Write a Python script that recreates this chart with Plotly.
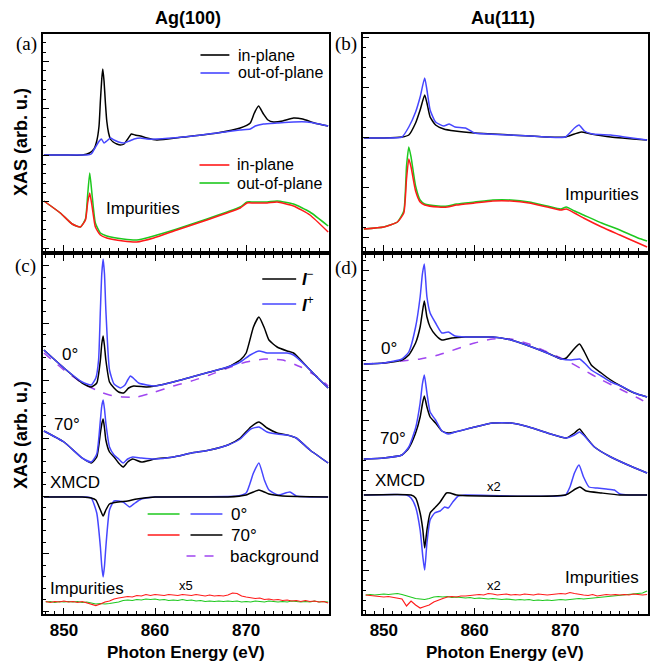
import plotly.graph_objects as go

# ---------------- data (photon energy in eV, intensity in arbitrary units) ----------------
# (a) Ag(100): Ni XAS in-plane / out-of-plane, and impurities
a_E_black = [847.8, 850.0, 852.0, 852.8, 853.3, 853.6, 853.85, 854.0, 854.15, 854.26, 854.4, 854.55, 854.7,
             854.9, 855.1, 855.4, 855.8, 856.2, 856.6, 857.0, 857.4, 857.8, 858.4, 859.1, 860.2, 863.1, 866.8,
             869.35, 870.45, 870.9, 871.36, 871.9, 872.4, 873.0, 874.0, 875.2, 876.2, 877.5, 879.0]
a_black = [96, 96, 96, 98, 102, 110, 125, 150, 172, 182, 170, 148, 130, 118, 112, 109, 107, 106, 107, 112,
           117, 116, 115, 113, 111, 114, 118, 123, 128, 138, 145, 137, 131, 129, 130, 133, 132, 128, 125]
a_E_blue = [847.8, 850.0, 852.5, 853.0, 853.4, 853.8, 854.1, 854.4, 854.7, 855.1, 855.5, 856.0, 856.6, 857.2,
            857.7, 858.4, 859.1, 860.2, 863.1, 866.8, 869.3, 870.45, 871.0, 871.9, 873.4, 875.2, 876.7, 878.0, 879.0]
a_blue = [96, 96, 96, 97, 103, 109, 112, 108, 110, 113, 111, 109, 108, 110, 112, 113, 112, 112, 114, 118,
          121, 122, 125, 127, 128, 129, 129, 127, 125]
a_E_imp = [847.8, 849.6, 850.9, 851.8, 852.36, 852.6, 852.83, 853.1, 853.45, 854.0, 854.7, 856.5, 858.0,
           859.85, 862.4, 865.7, 867.9, 869.35, 870.1, 870.8, 872.3, 873.4, 875.2, 877.0, 879.0]
a_red = [50, 38, 27, 24, 31, 48, 58, 44, 24, 16, 13, 10, 9, 13, 21, 31, 38, 43, 48, 48, 48, 49, 45, 36, 19]
a_green = [50, 38, 27, 24, 32, 56, 78, 55, 28, 18, 15, 12, 11, 15, 22, 32, 39, 44, 49, 49, 49, 50, 47, 39, 25]

# (b) Au(111)
b_E_black = [847.8, 850.0, 852.0, 852.75, 853.5, 854.0, 854.5, 854.75, 855.1, 855.7, 856.6, 857.85, 860.0,
             864.0, 868.0, 870.0, 871.0, 871.75, 872.85, 875.0, 879.0]
b_black = [113, 113, 114, 116, 128, 141, 156, 148, 134, 126, 122, 120, 118, 116, 114, 114, 117, 119, 117, 114, 111]
b_E_blue = [847.8, 850.0, 852.0, 852.75, 853.5, 854.0, 854.5, 854.75, 855.1, 855.7, 856.6, 857.2, 857.85,
            859.0, 860.0, 864.0, 868.0, 870.0, 871.0, 871.5, 872.1, 873.0, 875.0, 876.5, 879.0]
b_blue = [113, 113, 114, 124, 139, 154, 173, 161, 141, 129, 125, 127, 124, 123, 118, 116, 114, 114, 123, 126,
          120, 117, 116, 114, 111]
b_E_imp = [847.8, 850.0, 851.5, 852.2, 852.5, 852.75, 853.0, 853.5, 854.0, 854.5, 856.0, 857.0, 858.0, 860.0,
           862.0, 864.0, 866.0, 868.0, 869.5, 870.1, 871.0, 872.0, 874.0, 876.0, 878.0, 879.0]
b_red = [22, 24, 29, 38, 72, 92, 84, 60, 49, 46, 44, 44, 46, 48, 50, 50, 48, 44, 41, 42, 38, 33, 24, 16, 8, 4]
b_green = [22, 24, 29, 40, 85, 104, 94, 65, 51, 47, 45, 45, 47, 49, 51, 51, 49, 45, 42, 44, 40, 36, 28, 21, 13, 10]

# (c) Ag(100): XAS with I- / I+ at 0 and 70 deg, background, XMCD, impurities (x5)
c0_E_black = [847.8, 850.0, 852.0, 853.0, 853.6, 854.0, 854.15, 854.3, 854.45, 854.6, 855.0, 855.5, 856.0,
              856.55, 857.1, 857.65, 859.1, 860.0, 862.0, 864.0, 866.0, 868.0, 869.35, 870.0, 870.8, 871.4,
              872.0, 872.5, 873.4, 874.5, 875.2, 876.7, 877.75, 879.0]
c0_black = [264, 246, 231, 227, 231, 254, 270, 278, 268, 254, 232, 226, 222, 221, 226, 228, 227, 228, 232, 237,
            242, 247, 254, 261, 287, 297, 286, 274, 267, 263, 261, 247, 237, 226]
c0_E_blue = [847.8, 850.0, 852.0, 853.0, 853.5, 853.8, 854.0, 854.15, 854.3, 854.45, 854.6, 855.0, 855.5,
             856.2, 856.7, 857.0, 857.3, 857.6, 858.2, 859.1, 860.0, 862.0, 864.0, 866.0, 868.0, 869.35, 870.45,
             871.4, 872.3, 874.5, 875.2, 876.7, 877.75, 879.0]
c0_blue = [264, 246, 232, 229, 236, 254, 304, 340, 355, 340, 304, 244, 230, 226, 229, 234, 238, 236, 231, 229,
           228, 232, 237, 242, 247, 252, 259, 263, 261, 261, 259, 247, 237, 226]
c_bg_E = [847.8, 850.0, 852.0, 854.0, 855.0, 856.5, 858.0, 860.0, 862.0, 864.0, 866.0, 868.0, 870.0, 872.0,
          874.0, 876.0, 878.0, 879.0]
c_bg = [261, 244, 231, 222, 219, 217, 217, 222, 228, 233, 239, 246, 252, 255, 254, 247, 236, 228]
c70_E = [847.8, 850.0, 852.0, 853.0, 853.6, 854.0, 854.15, 854.3, 854.45, 854.6, 855.0, 855.5, 856.0, 856.5,
         857.0, 857.55, 858.5, 860.0, 862.0, 864.0, 866.0, 868.0, 869.35, 870.5, 871.4, 872.3, 873.4, 874.5,
         875.5, 877.0, 879.0]
c70_black = [183, 172, 156, 151, 157, 181, 190, 195, 186, 174, 162, 157, 151, 147, 152, 155, 152, 155, 157, 161,
             164, 169, 176, 187, 192, 186, 181, 179, 176, 164, 151]
c70_blue = [183, 172, 156, 152, 160, 194, 208, 214, 205, 191, 167, 159, 155, 151, 155, 157, 156, 155, 157, 161,
            164, 169, 175, 185, 187, 182, 180, 179, 176, 164, 151]
c_xm_E_black = [847.8, 852.0, 853.0, 853.5, 854.0, 854.3, 854.6, 855.0, 856.0, 857.0, 858.0, 860.0, 868.0,
                870.0, 870.8, 871.4, 872.0, 872.5, 874.0, 879.0]
c_xm_black = [117, 117, 116, 114, 104, 98, 104, 110, 112, 113, 115, 117, 117, 119, 122, 124, 122, 120, 118, 117]
c_xm_E_blue = [847.8, 852.5, 853.0, 853.6, 854.0, 854.15, 854.3, 854.45, 854.6, 855.0, 855.5, 856.0, 856.5,
               857.2, 857.8, 858.5, 860.0, 869.0, 870.0, 870.8, 871.4, 872.0, 872.5, 873.5, 874.8, 875.5, 879.0]
c_xm_blue = [117, 117, 116, 101, 67, 48, 37, 48, 67, 104, 113, 113, 112, 107, 111, 115, 117, 118, 121, 141,
             151, 134, 124, 119, 122, 118, 117]

imp_E = [848.0, 848.5, 849.0, 849.5, 850.0, 850.5, 851.0, 851.5, 852.0, 852.5, 853.0, 853.5, 854.0, 854.5,
         855.0, 855.5, 856.0, 856.5, 857.0, 857.5, 858.0, 858.5, 859.0, 859.5, 860.0, 860.5, 861.0, 861.5,
         862.0, 862.5, 863.0, 863.5, 864.0, 864.5, 865.0, 865.5, 866.0, 866.5, 867.0, 867.5, 868.0, 868.5,
         869.0, 869.5, 870.0, 870.5, 871.0, 871.5, 872.0, 872.5, 873.0, 873.5, 874.0, 874.5, 875.0, 875.5,
         876.0, 876.5, 877.0, 877.5, 878.0, 878.5, 879.0]
c_imp_red = [12.5, 11.5, 12.5, 12, 13, 12, 12.5, 11.5, 12.5, 11, 10, 8.5, 10, 12, 13, 15, 16, 16.5, 17.5, 17,
             18.5, 18, 19.5, 18.5, 19.5, 19, 18.5, 19.5, 19, 18.5, 19.5, 19, 18.5, 19.5, 18.5, 18, 19, 18,
             18.5, 18, 19, 21, 20.5, 18, 17, 16.5, 15.5, 16, 14.5, 15, 14, 14.5, 13.5, 14, 13, 13.5, 12.5,
             13.5, 12.5, 13, 12, 12.5, 11]
c_imp_green = [12, 12.5, 11.5, 12.5, 12, 12.5, 12, 12.5, 11.5, 12, 11, 10, 10.5, 10, 10.5, 11, 12, 13.5, 14,
               13.5, 14.5, 14, 15, 14.5, 15, 14, 14.5, 13.5, 14, 13.5, 14.5, 13.5, 14, 13, 13.5, 12.5, 13,
               12.5, 13, 12.5, 13, 12.5, 13, 12, 12.5, 12, 13, 12.5, 12, 13, 12.5, 12, 12.5, 12, 13, 12.5,
               12, 12.5, 12, 13, 12, 12.5, 12]

# (d) Au(111)
d0_E_black = [847.8, 850.0, 852.0, 852.75, 853.5, 854.0, 854.25, 854.46, 854.75, 855.1, 855.7, 856.4, 857.5,
              859.0, 860.0, 862.0, 864.0, 866.0, 868.0, 869.55, 870.1, 870.85, 871.56, 872.1, 872.85, 873.95,
              875.0, 876.1, 877.6, 879.0]
d0_black = [250, 251, 254, 259, 271, 287, 302, 313, 297, 287, 279, 274, 276, 277, 277, 277, 274, 268, 261, 255,
            256, 264, 270, 262, 249, 241, 234, 228, 221, 217]
d0_E_blue = [847.8, 850.0, 852.0, 852.75, 853.5, 854.0, 854.25, 854.46, 854.75, 855.1, 855.7, 856.4, 857.1,
             857.85, 859.0, 860.0, 862.0, 864.0, 866.0, 868.0, 869.55, 870.65, 871.56, 872.1, 872.85, 873.95,
             875.0, 876.1, 877.6, 879.0]
d0_blue = [250, 251, 255, 262, 287, 317, 340, 350, 317, 301, 291, 281, 282, 278, 277, 277, 277, 274, 268, 261,
           255, 254, 255, 251, 244, 238, 232, 228, 221, 217]
d_bg_E = [847.8, 850.0, 852.0, 854.0, 856.0, 858.0, 860.0, 862.0, 864.0, 866.0, 868.0, 870.0, 872.0, 874.0,
          876.0, 878.0, 879.0]
d_bg = [250, 251, 253, 255, 259, 265, 271, 275, 275, 270, 262, 254, 244, 234, 225, 216, 211]
d70_E = [847.8, 850.0, 852.0, 852.75, 853.5, 854.0, 854.25, 854.46, 854.75, 855.1, 855.7, 856.4, 857.1,
         857.85, 860.0, 862.0, 864.0, 866.0, 868.0, 870.1, 871.0, 871.56, 872.1, 873.2, 875.0, 876.9, 879.0]
d70_black = [155, 156, 159, 166, 181, 197, 210, 218, 207, 197, 191, 183, 181, 182, 187, 191, 191, 187, 181, 176,
             181, 185, 179, 167, 157, 149, 141]
d70_blue = [155, 156, 159, 167, 186, 211, 230, 239, 221, 202, 194, 183, 180, 182, 187, 191, 191, 187, 181, 176,
            179, 182, 178, 167, 157, 149, 141]
d_xm_E_black = [847.8, 853.0, 853.5, 854.0, 854.3, 854.5, 854.75, 855.1, 855.6, 856.2, 856.9, 857.3, 858.0,
                870.0, 871.1, 871.6, 872.3, 874.0, 876.0, 879.0]
d_xm_black = [119, 119, 116, 101, 84, 66, 84, 101, 106, 112, 121, 121, 119, 119, 125, 127, 123, 121, 119, 119]
d_xm_E_blue = [847.8, 852.5, 853.0, 853.5, 854.0, 854.3, 854.5, 854.75, 855.1, 855.6, 856.2, 856.7, 857.1,
               857.6, 858.2, 859.0, 870.0, 870.5, 871.0, 871.5, 872.0, 872.6, 873.5, 874.5, 875.4, 876.0,
               877.0, 879.0]
d_xm_blue = [119, 119, 116, 107, 84, 57, 44, 71, 94, 101, 103, 107, 106, 112, 118, 119, 119, 127, 141, 149,
             137, 127, 126, 125, 124, 120, 119, 119]
d_imp_red = [19, 18.5, 18, 17.5, 17, 17.5, 16.5, 16, 15, 8, 13, 9, 6, 7.5, 9, 12, 14, 15.5, 17, 17.5, 17, 18,
             18, 18.5, 19, 19.5, 19, 20.5, 20, 19, 19.5, 20, 19, 19.5, 19, 20, 19.5, 19, 20, 19.5, 19, 19.5,
             20, 20.5, 20, 21.5, 20.5, 19.5, 19, 18.5, 19.5, 18, 19, 19.5, 19, 19.5, 19, 19.5, 19, 20, 19.5,
             19, 19.5]
d_imp_green = [19, 19.5, 19, 19.5, 20, 19.5, 20, 20.5, 19.5, 18, 16.5, 15.5, 15, 14.5, 15.5, 17, 17.5, 17, 17.5,
               16.5, 17, 16.5, 16, 16.5, 15.5, 16, 15.5, 15, 15.5, 15, 14.5, 15, 14.5, 14, 14.5, 14, 14.5,
               13.5, 14, 13.5, 14, 13.5, 14, 14.5, 14, 14.5, 15, 15.5, 15, 15.5, 16, 16.5, 17, 17.5, 18, 18.5,
               19, 19.5, 20, 20, 20.5, 21, 23]

# ---------------- styling ----------------
BLACK = "#000000"
BLUE = "#4646ff"
RED = "#ff1a1a"
GREEN = "#1ec81e"
PURPLE = "#a046f0"
FONT = "Liberation Sans, Arial, sans-serif"
SERIF = "Liberation Serif, Times New Roman, serif"

W, H = 654, 665
ML, MR, MT, MB = 43, 4, 34, 51
PW, PH = W - ML - MR, H - MT - MB


def fx(p):  # pixel -> paper x
    return (p - ML) / PW


def fy(p):  # pixel -> paper y
    return (H - MB - p) / PH


fig = go.Figure()


def add(E, y, color, ax, width=1.5, dash=None, smooth=True):
    line = dict(color=color, width=width, dash=dash)
    if smooth:
        line.update(shape="spline", smoothing=0.5)
    fig.add_trace(go.Scatter(
        x=E, y=y, mode="lines", line=line,
        xaxis="x" + ax, yaxis="y" + ax, showlegend=False, hoverinfo="skip"))


# (a)
add(a_E_black, a_black, BLACK, "")
add(a_E_blue, a_blue, BLUE, "")
add(a_E_imp, a_green, GREEN, "")
add(a_E_imp, a_red, RED, "")
# (b)
add(b_E_black, b_black, BLACK, "2")
add(b_E_blue, b_blue, BLUE, "2")
add(b_E_imp, b_green, GREEN, "2")
add(b_E_imp, b_red, RED, "2")
# (c)
add(c_bg_E, c_bg, PURPLE, "3", dash="dash")
add(c0_E_black, c0_black, BLACK, "3")
add(c0_E_blue, c0_blue, BLUE, "3")
add(c70_E, c70_black, BLACK, "3")
add(c70_E, c70_blue, BLUE, "3")
add(c_xm_E_blue, c_xm_blue, BLUE, "3")
add(c_xm_E_black, c_xm_black, BLACK, "3")
add(imp_E, c_imp_green, GREEN, "3", width=1.2, smooth=False)
add(imp_E, c_imp_red, RED, "3", width=1.2, smooth=False)
# (d)
add(d_bg_E, d_bg, PURPLE, "4", dash="dash")
add(d0_E_black, d0_black, BLACK, "4")
add(d0_E_blue, d0_blue, BLUE, "4")
add(d70_E, d70_black, BLACK, "4")
add(d70_E, d70_blue, BLUE, "4")
add(d_xm_E_blue, d_xm_blue, BLUE, "4")
add(d_xm_E_black, d_xm_black, BLACK, "4")
add(imp_E, d_imp_green, GREEN, "4", width=1.2, smooth=False)
add(imp_E, d_imp_red, RED, "4", width=1.2, smooth=False)

xl = [0, fx(330)]
xr = [fx(364), 1]
yt = [fy(251), 1]
yb = [0, fy(255)]


def xax(dom, anchor, labels):
    return dict(
        domain=dom, anchor=anchor, range=[847.7, 879.1],
        showline=True, linecolor="black", linewidth=1.8,
        mirror="allticks" if labels else True,
        ticks="inside", tick0=850, dtick=10, ticklen=6, tickwidth=1.2, tickcolor="black",
        minor=dict(ticks="inside", tick0=850, dtick=1, ticklen=3.5, tickwidth=1, tickcolor="black",
                   showgrid=False),
        showticklabels=labels,
        tickfont=dict(family=FONT, size=17, color="black", weight="bold"),
        showgrid=False, zeroline=False,
    )


def yax(dom, anchor, top, t0, dt):
    return dict(
        domain=dom, anchor=anchor, range=[0, top],
        showline=True, linecolor="black", linewidth=1.8, mirror=True,
        ticks="inside", tick0=t0, dtick=dt, ticklen=6, tickwidth=1.2, tickcolor="black",
        minor=dict(ticks="inside", tick0=t0, dtick=dt / 5, ticklen=3.5, tickwidth=1, tickcolor="black",
                   showgrid=False),
        showticklabels=False, showgrid=False, zeroline=False,
    )


fig.update_layout(
    width=W, height=H,
    margin=dict(l=ML, r=MR, t=MT, b=MB),
    paper_bgcolor="white", plot_bgcolor="white",
    font=dict(family=FONT, color="black", size=16),
    showlegend=False,
    xaxis=xax(xl, "y", False),
    yaxis=yax(yt, "x", 217, 96, 46.67),
    xaxis2=xax(xr, "y2", False),
    yaxis2=yax(yt, "x2", 217, 13.3, 50),
    xaxis3=xax(xl, "y3", True),
    yaxis3=yax(yb, "x3", 359, 118, 57.6),
    xaxis4=xax(xr, "y4", True),
    yaxis4=yax(yb, "x4", 359, 43.3, 50),
)

ann = []


def text(x, y, s, size=17, bold=False, xanchor="center", family=FONT, angle=0):
    ann.append(dict(
        x=fx(x), y=fy(y), xref="paper", yref="paper", text=s, showarrow=False,
        xanchor=xanchor, yanchor="middle", textangle=angle,
        font=dict(family=family, size=size, color="black", weight="bold" if bold else "normal")))


# titles
text(188, 18, "Ag(100)", size=18, bold=True)
text(505, 18, "Au(111)", size=18, bold=True)
# y titles
text(21, 142, "XAS (arb. u.)", size=18, bold=True, angle=-90)
text(21, 435, "XAS (arb. u.)", size=18, bold=True, angle=-90)
# x titles
text(186.5, 652, "Photon Energy (eV)", size=17, bold=True)
text(507, 652, "Photon Energy (eV)", size=17, bold=True)
# panel labels
text(26, 44, "(a)", size=19, family=SERIF)
text(347, 44, "(b)", size=19, family=SERIF)
text(25, 266, "(c)", size=19, family=SERIF)
text(347, 268, "(d)", size=19, family=SERIF)
# in-panel labels
text(104, 208, "Impurities", xanchor="left")
text(643, 194, "Impurities", xanchor="right")
text(70, 355, "0°")
text(67, 424, "70°")
text(75, 483, "XMCD")
text(87, 588, "Impurities")
text(186, 585, "x5", size=13)
text(390, 348, "0°")
text(394, 438, "70°")
text(401, 480, "XMCD")
text(495, 486, "x2", size=13)
text(643, 577, "Impurities", xanchor="right")
text(495, 585, "x2", size=13)

# legend texts
text(237, 55, "in-plane", size=16, xanchor="left")
text(237, 73, "out-of-plane", size=16, xanchor="left")
text(236, 165, "in-plane", size=16, xanchor="left")
text(236, 183, "out-of-plane", size=16, xanchor="left")
text(301, 278, "<b><i>I</i></b><sup>−</sup>", size=17, xanchor="left")
text(301, 304, "<b><i>I</i></b><sup>+</sup>", size=17, xanchor="left")
text(230, 514, "0°", size=17, xanchor="left")
text(230, 535, "70°", size=17, xanchor="left")
text(229, 556, "background", size=17, xanchor="left")
fig.update_layout(annotations=ann)

# legend line samples (layout decorations)
shapes = []


def seg(x0, x1, y, color, dash="solid"):
    shapes.append(dict(type="line", xref="paper", yref="paper", x0=fx(x0), x1=fx(x1), y0=fy(y), y1=fy(y),
                       line=dict(color=color, width=1.6, dash=dash)))


seg(201, 230, 55, BLACK)
seg(201, 230, 73, BLUE)
seg(200, 230, 165, RED)
seg(200, 230, 183, GREEN)
seg(263, 297, 279, BLACK)
seg(263, 297, 304, BLUE)
seg(148, 180, 514, GREEN)
seg(191, 223, 514, BLUE)
seg(148, 180, 535, RED)
seg(191, 223, 535, BLACK)
seg(187, 220, 556, PURPLE, dash="dash")
fig.update_layout(shapes=shapes)

fig.write_html(
    "out.html",
    config={"displayModeBar": False},
    post_script="document.body.style.margin='0';document.body.style.padding='0';",
)
